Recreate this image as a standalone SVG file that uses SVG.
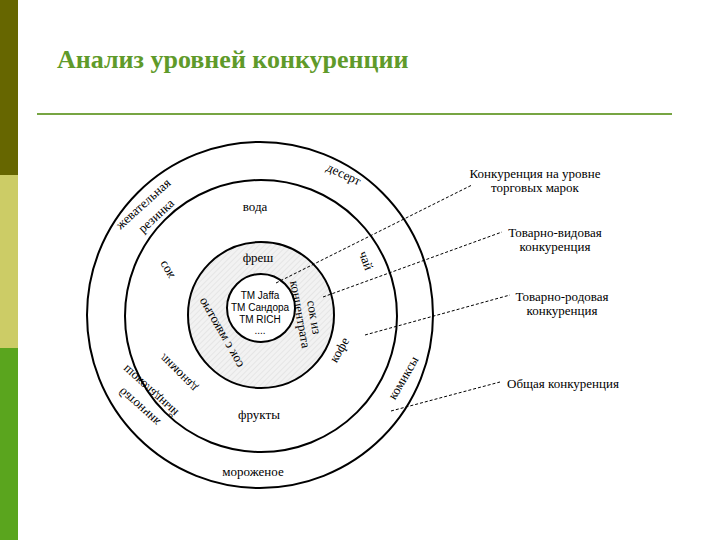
<svg xmlns="http://www.w3.org/2000/svg" width="720" height="540" viewBox="0 0 720 540">
<defs>
<style>
.c{fill:none;stroke:#000;stroke-width:2}
.t{font-family:"Liberation Serif",serif;font-size:13px;fill:#000}
.s{font-family:"Liberation Sans",sans-serif;font-size:10px;fill:#000;text-anchor:middle}
.l{stroke:#000;stroke-width:1;stroke-dasharray:3,2}
.m{text-anchor:middle}
</style>
<pattern id="h" width="4" height="4" patternUnits="userSpaceOnUse" patternTransform="rotate(45)"><rect width="4" height="4" fill="#f2f2f2"/><line x1="0" y1="0" x2="0" y2="4" stroke="#d8d8d8" stroke-width="1"/></pattern>
</defs>
<rect width="720" height="540" fill="#fff"/>
<rect x="0" y="0" width="18" height="175" fill="#666600"/>
<rect x="0" y="175" width="18" height="173" fill="#cccc66"/>
<rect x="0" y="348" width="18" height="192" fill="#5aa51e"/>
<text x="57" y="68" font-family="Liberation Serif,serif" font-weight="bold" font-size="26" fill="#5f9a2a">Анализ уровней конкуренции</text>
<line x1="37" y1="114" x2="672" y2="114" stroke="#77a543" stroke-width="2"/>
<g id="outer"><circle class="c" cx="260" cy="315" r="173"/>
<text class="t m" transform="translate(342,178) rotate(25)">десерт</text>
<text class="t m" transform="translate(146,207) rotate(-42)">жевательная</text>
<text class="t m" transform="translate(159,219) rotate(-42)">резинка</text>
<text class="t m" transform="translate(153,388) rotate(42) scale(1,-1)">шоколадный</text>
<text class="t m" transform="translate(142,404) rotate(42) scale(1,-1)">батончик</text>
<text class="t m" x="253" y="476">мороженое</text>
<text class="t m" transform="translate(407,380) rotate(-60)">комиксы</text>
</g>
<g id="ring2"><circle class="c" cx="261" cy="316" r="136"/>
<text class="t m" x="255" y="211">вода</text>
<text class="t m" transform="translate(362,262) rotate(70)">чай</text>
<text class="t m" transform="translate(343,352) rotate(-60)">кофе</text>
<text class="t m" x="259" y="419">фрукты</text>
<text class="t m" transform="translate(181,370) rotate(45) scale(1,-1)">лимонад</text>
<text class="t m" transform="translate(170,268) rotate(60) scale(1,-1)">сок</text>
</g>
<g id="ring3"><circle cx="261" cy="315" r="73" fill="url(#h)" stroke="#000" stroke-width="2"/>
<text class="t m" x="258" y="262">фреш</text>
<text class="t m" transform="translate(310,318) rotate(80)">сок из</text>
<text class="t m" transform="translate(296,315) rotate(80)">концентрата</text>
<text class="t m" transform="translate(219,334) rotate(240) scale(1,-1)">сок с мякотью</text>
</g>
<g id="inner"><circle cx="261" cy="308" r="34" fill="#fff" stroke="#000" stroke-width="2"/>
<text class="s" x="260" y="299">TM Jaffa</text>
<text class="s" x="260" y="311">TM Сандора</text>
<text class="s" x="260" y="323">TM RICH</text>
<text class="s" x="260" y="334">....</text>
</g>
<g id="connectors">
<line class="l" x1="276" y1="283" x2="472" y2="185" stroke-dasharray="1.5,1.5"/>
<line class="l" x1="323" y1="297" x2="502" y2="232"/>
<line class="l" x1="365" y1="335" x2="510" y2="295"/>
<line class="l" x1="391" y1="411" x2="500" y2="382"/>
</g>
<g id="labels">
<text class="t m" x="535" y="178">Конкуренция на уровне</text>
<text class="t m" x="535" y="192">торговых марок</text>
<text class="t m" x="555" y="237">Товарно-видовая</text>
<text class="t m" x="555" y="251">конкуренция</text>
<text class="t m" x="562" y="301">Товарно-родовая</text>
<text class="t m" x="562" y="315">конкуренция</text>
<text class="t m" x="563" y="388">Общая конкуренция</text>
</g>
</svg>
